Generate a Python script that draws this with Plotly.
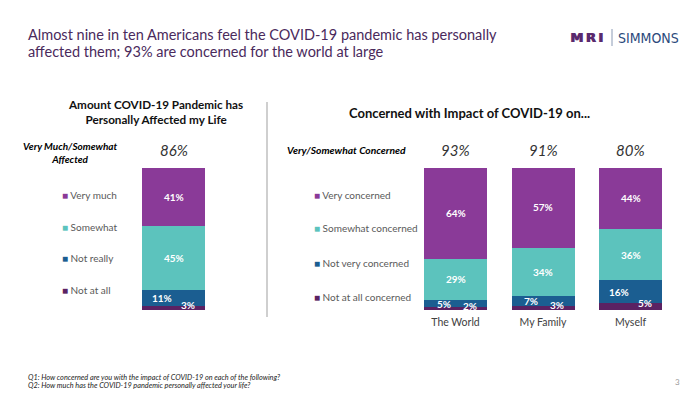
import plotly.graph_objects as go

# ---------------- data ----------------
left_category = ["Affected"]
left_series = ["Not at all", "Not really", "Somewhat", "Very much"]
left_values = [[3], [11], [45], [41]]          # bottom -> top
left_top2 = [86]

right_categories = ["The World", "My Family", "Myself"]
right_series = ["Not at all concerned", "Not very concerned", "Somewhat concerned", "Very concerned"]
not_at_all = [2, 3, 5]
not_very = [5, 7, 16]
somewhat = [29, 34, 36]
very = [64, 57, 44]
right_values = [not_at_all, not_very, somewhat, very]
right_top2 = [93, 91, 80]

colors = ["#5B2263", "#1B5E91", "#5CC3BD", "#8A3A98"]   # bottom -> top

W, H = 700, 394
FONT = "Lato, 'Open Sans', sans-serif"


def px(x):
    return x / W


def py(y):
    return 1 - y / H


fig = go.Figure()

# bars
for i, name in enumerate(left_series):
    fig.add_trace(go.Bar(x=left_category, y=left_values[i], name=name,
                         marker=dict(color=colors[i], line=dict(width=0)),
                         xaxis="x", yaxis="y", hoverinfo="skip"))
for i, name in enumerate(right_series):
    fig.add_trace(go.Bar(x=right_categories, y=right_values[i], name=name,
                         marker=dict(color=colors[i], line=dict(width=0)),
                         xaxis="x2", yaxis="y2", hoverinfo="skip"))

annotations = []


def ann(**kw):
    d = dict(showarrow=False, xanchor="center", yanchor="middle")
    d.update(kw)
    annotations.append(d)


# value labels inside bars
xshift_for = {0: 14, 1: -12, 2: 0, 3: 0}
yshift_for = {0: 3, 1: 0, 2: 0, 3: 0}


def add_labels(cats, series_vals, xref, yref):
    for ci, cat in enumerate(cats):
        base = 0
        for si, vals in enumerate(series_vals):
            v = vals[ci]
            ann(x=cat, y=base + v / 2, xref=xref, yref=yref,
                text=f"<b>{v}%</b>",
                xshift=xshift_for[si], yshift=yshift_for[si],
                font=dict(family=FONT, size=10, color="white"))
            base += v


add_labels(left_category, left_values, "x", "y")
add_labels(right_categories, right_values, "x2", "y2")

# top-2 box figures
for cat, v in zip(left_category, left_top2):
    ann(x=cat, xref="x", y=py(150), yref="paper", text=f"<i>{v}%</i>",
        font=dict(family=FONT, size=15, color="#333333"))
for cat, v in zip(right_categories, right_top2):
    ann(x=cat, xref="x2", y=py(150), yref="paper", text=f"<i>{v}%</i>",
        font=dict(family=FONT, size=15, color="#333333"))

# legends (drawn as text)
left_legend_y = [290, 258, 227, 195]
for name, c, yy in zip(left_series, colors, left_legend_y):
    ann(x=px(60), y=py(yy), xref="paper", yref="paper", xanchor="left",
        text=f"<span style='color:{c}'>■</span> {name}",
        font=dict(family=FONT, size=10, color="#595959"))
right_legend_y = [297, 263, 228, 195]
for name, c, yy in zip(right_series, colors, right_legend_y):
    ann(x=px(312), y=py(yy), xref="paper", yref="paper", xanchor="left",
        text=f"<span style='color:{c}'>■</span> {name}",
        font=dict(family=FONT, size=10, color="#595959"))

# chart titles
ann(x=px(155), y=py(111.5), xref="paper", yref="paper", align="center",
    text="<b>Amount COVID-19 Pandemic has<br>Personally Affected my Life</b>",
    font=dict(family=FONT, size=11.7, color="#111111"))
ann(x=px(470), y=py(113), xref="paper", yref="paper",
    text="<b>Concerned with Impact of COVID-19 on...</b>",
    font=dict(family=FONT, size=13, color="#111111"))

# row headers
ann(x=px(70), y=py(152.5), xref="paper", yref="paper", align="center",
    text="<b><i>Very Much/Somewhat<br>Affected</i></b>",
    font=dict(family=FONT, size=10, color="#000000"))
ann(x=px(285), y=py(150), xref="paper", yref="paper", xanchor="left",
    text="<b><i>Very/Somewhat Concerned</i></b>",
    font=dict(family=FONT, size=10.3, color="#000000"))

# slide title
ann(x=px(26), y=py(35), xref="paper", yref="paper", xanchor="left",
    text="Almost nine in ten Americans feel the COVID-19 pandemic has personally",
    font=dict(family=FONT, size=14.5, color="#4A2A5C"))
ann(x=px(26), y=py(51), xref="paper", yref="paper", xanchor="left",
    text="affected them; 93% are concerned for the world at large",
    font=dict(family=FONT, size=14.5, color="#4A2A5C"))

# logo (drawn twice with a tiny offset to make it heavier)
for dx in (0, 0.7):
    ann(x=px(607), y=py(37.5), xref="paper", yref="paper", xanchor="right",
        xshift=dx,
        text="<span style='letter-spacing:2.5px'><b>MRI</b></span>",
        font=dict(family="'DejaVu Sans', sans-serif", size=13, color="#5A2A6E"))
ann(x=px(616), y=py(37.5), xref="paper", yref="paper", xanchor="left",
    text="SIMMONS",
    font=dict(family="'Liberation Sans Narrow', 'DejaVu Sans Condensed', 'Roboto Condensed', sans-serif",
              size=14, color="#2C4A7C"))

# footnotes
ann(x=px(26), y=py(377), xref="paper", yref="paper", xanchor="left",
    text="<i>Q1: How concerned are you with the impact of COVID-19 on each of the following?</i>",
    font=dict(family=FONT, size=7.3, color="#222222"))
ann(x=px(26), y=py(385.5), xref="paper", yref="paper", xanchor="left",
    text="<i>Q2: How much has the COVID-19 pandemic personally affected your life?</i>",
    font=dict(family=FONT, size=7.3, color="#222222"))
ann(x=px(677), y=py(382), xref="paper", yref="paper", text="3",
    font=dict(family=FONT, size=8, color="#9A9A9A"))

shapes = [
    dict(type="line", xref="paper", yref="paper", x0=px(267), x1=px(267),
         y0=py(102), y1=py(317), line=dict(color="#BFBFBF", width=1.5)),
    dict(type="line", xref="paper", yref="paper", x0=px(612), x1=px(612),
         y0=py(29), y1=py(46), line=dict(color="#8A9AB5", width=1)),
]

ydom = [py(310), py(168)]
fig.update_layout(
    width=W, height=H,
    margin=dict(l=0, r=0, t=0, b=0),
    paper_bgcolor="white", plot_bgcolor="rgba(0,0,0,0)",
    barmode="stack", bargap=0.28,
    showlegend=False,
    hovermode=False,
    font=dict(family=FONT),
    xaxis=dict(domain=[px(129.75), px(217.25)], range=[-0.5, 0.5],
               showticklabels=False, showgrid=False, zeroline=False,
               showline=False, ticks="", fixedrange=True),
    yaxis=dict(domain=ydom, range=[0, 100], visible=False, fixedrange=True),
    xaxis2=dict(domain=[px(411.75), px(674.25)], range=[-0.5, 2.5],
                anchor="y2", showgrid=False, zeroline=False, showline=False,
                ticks="", ticklabelstandoff=4,
                tickfont=dict(family=FONT, size=10.5, color="#404040"),
                fixedrange=True),
    yaxis2=dict(domain=ydom, range=[0, 100], anchor="x2", visible=False,
                fixedrange=True),
    annotations=annotations,
    shapes=shapes,
)

fig.write_html("out.html", config={"displayModeBar": False},
               post_script="document.body.style.margin='0';document.body.style.overflow='hidden';")
